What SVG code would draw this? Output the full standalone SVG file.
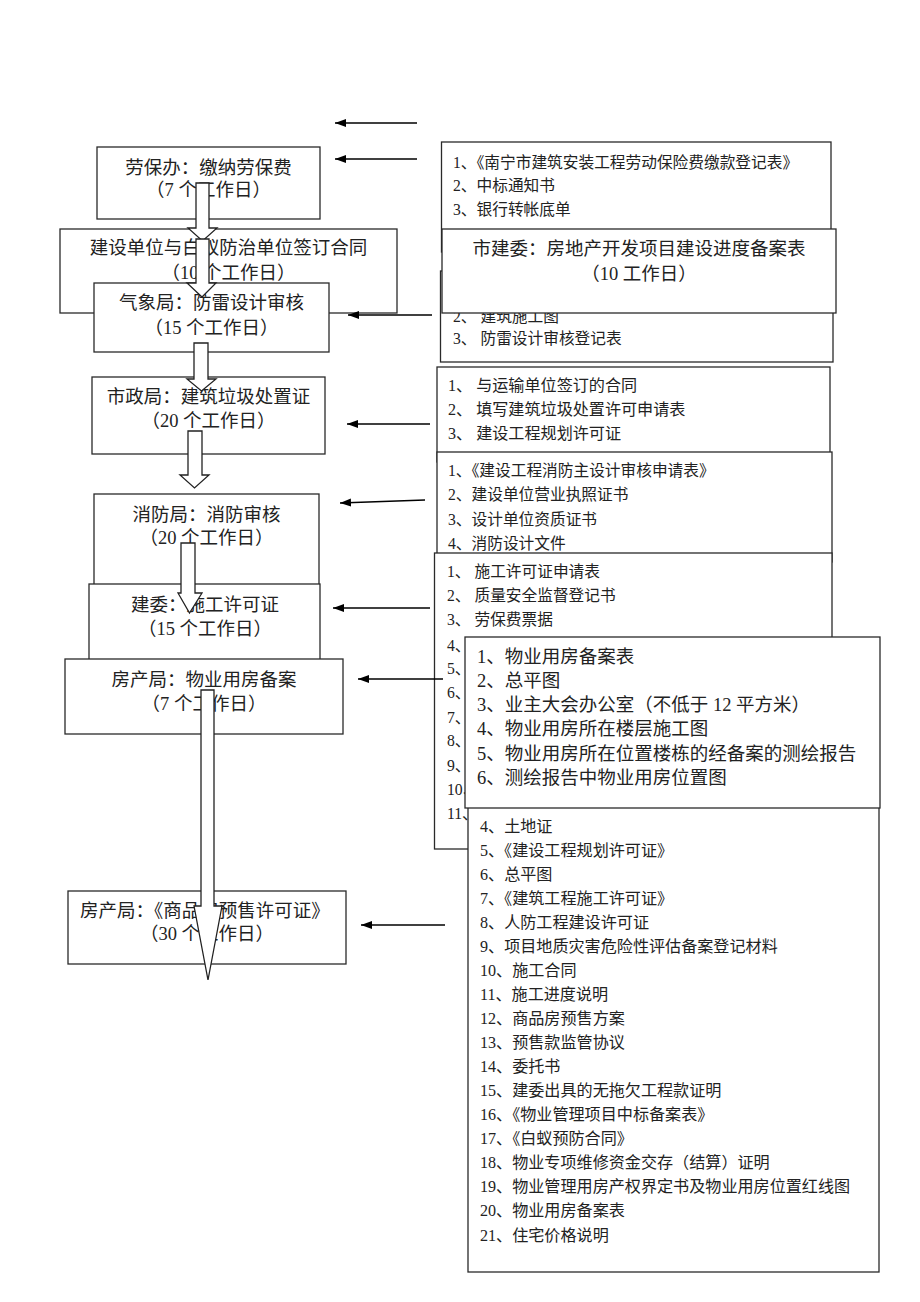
<svg xmlns="http://www.w3.org/2000/svg" width="920" height="1302" viewBox="0 0 920 1302">
<style>
.box{fill:#fff;stroke:#2a2a2a;stroke-width:1.3}
.t{font-family:"Liberation Serif","Noto Sans CJK SC",sans-serif;font-size:18.5px;fill:#222}
.c{text-anchor:middle}
.s{font-family:"Liberation Serif","Noto Sans CJK SC",sans-serif;font-size:15.7px;fill:#222}
.m{font-size:16.1px}
.ln{stroke:#000;stroke-width:1.5;fill:none;marker-end:url(#ah)}
.blk{fill:#fff;stroke:#222;stroke-width:1.3;stroke-linejoin:miter}
</style>
<defs>
<marker id="ah" markerUnits="userSpaceOnUse" markerWidth="12" markerHeight="10" refX="11" refY="4" orient="auto">
<path d="M0,0 L11,4 L0,8 Z" fill="#000"/>
</marker>
</defs>
<rect width="920" height="1302" fill="#fff"/>

<g id="n-laobao"><rect class="box" x="97" y="147" width="223" height="72"/><text class="t c" x="208.5" y="173.5">劳保办：缴纳劳保费</text><text class="t c" x="208.5" y="195.5">（7 个工作日）</text></g>
<g id="n-jianshe"><rect class="box" x="60" y="229" width="337" height="84"/><text class="t c" x="228.5" y="253.5">建设单位与白蚁防治单位签订合同</text><text class="t c" x="228.5" y="278.5">（10 个工作日）</text></g>
<g id="n-qixiang"><rect class="box" x="94" y="283" width="235" height="69"/><text class="t c" x="211.5" y="308.5">气象局：防雷设计审核</text><text class="t c" x="211.5" y="333.5">（15 个工作日）</text></g>
<g id="n-shizheng"><rect class="box" x="92" y="377" width="233" height="77"/><text class="t c" x="208.5" y="402.5">市政局：建筑垃圾处置证</text><text class="t c" x="208.5" y="426.5">（20 个工作日）</text></g>
<g id="n-xiaofang"><rect class="box" x="94" y="494" width="225" height="110"/><text class="t c" x="206.5" y="520.5">消防局：消防审核</text><text class="t c" x="206.5" y="543.5">（20 个工作日）</text></g>
<g id="n-jianwei"><rect class="box" x="89" y="584" width="231" height="90"/><text class="t c" x="205" y="610.5">建委：施工许可证</text><text class="t c" x="205" y="634.5">（15 个工作日）</text></g>
<g id="n-wuye"><rect class="box" x="65" y="659" width="278" height="75"/><text class="t c" x="204" y="685.5">房产局：物业用房备案</text><text class="t c" x="204" y="709.5">（7 个工作日）</text></g>
<g id="n-yushou"><rect class="box" x="68" y="891" width="278" height="73"/><text class="t c" x="205" y="916.5">房产局：《商品房预售许可证》</text><text class="t c" x="207" y="939.5">（30 个工作日）</text></g>

<g id="r-laobao"><rect class="box" x="441.5" y="142" width="389.5" height="110"/>
<text class="s" x="453" y="167.5">1、《南宁市建筑安装工程劳动保险费缴款登记表》</text>
<text class="s" x="453" y="190.5">2、中标通知书</text>
<text class="s" x="453" y="214.5">3、银行转帐底单</text></g>
<g id="r-qixiang"><rect class="box" x="440.5" y="271" width="392.5" height="91"/>
<text class="s" x="453" y="321.5">2、 建筑施工图</text>
<text class="s" x="453" y="343.5">3、 防雷设计审核登记表</text></g>
<g id="n-shijianwei"><rect class="box" x="442" y="229" width="394" height="84"/><text class="t c" x="639" y="254.5">市建委：房地产开发项目建设进度备案表</text><text class="t c" x="639" y="279.5">（10 工作日）</text></g>
<g id="r-shizheng"><rect class="box" x="437" y="367" width="393" height="95"/>
<text class="s m" x="448" y="390.5">1、 与运输单位签订的合同</text>
<text class="s m" x="448" y="414.5">2、 填写建筑垃圾处置许可申请表</text>
<text class="s m" x="448" y="438.5">3、 建设工程规划许可证</text></g>
<g id="r-xiaofang"><rect class="box" x="437" y="452" width="395" height="110"/>
<text class="s" x="448" y="475.5">1、《建设工程消防主设计审核申请表》</text>
<text class="s" x="448" y="499.5">2、建设单位营业执照证书</text>
<text class="s" x="448" y="524.5">3、设计单位资质证书</text>
<text class="s" x="448" y="548.5">4、消防设计文件</text></g>
<g id="r-jianwei"><rect class="box" x="434.5" y="553" width="397.5" height="296"/>
<text class="s" x="447" y="576.5">1、 施工许可证申请表</text>
<text class="s" x="447" y="600.5">2、 质量安全监督登记书</text>
<text class="s" x="447" y="624.5">3、 劳保费票据</text>
<text class="s" x="447" y="650.5">4、</text>
<text class="s" x="447" y="673.5">5、</text>
<text class="s" x="447" y="697.5">6、</text>
<text class="s" x="447" y="722.5">7、</text>
<text class="s" x="447" y="745.5">8、</text>
<text class="s" x="447" y="770.5">9、</text>
<text class="s" x="447" y="794.5">10、</text>
<text class="s" x="447" y="818.5">11、</text></g>
<g id="r-yushou"><rect class="box" x="468" y="790" width="411" height="482"/>
<text class="s m" x="480" y="831.5">4、土地证</text>
<text class="s m" x="480" y="855.5">5、《建设工程规划许可证》</text>
<text class="s m" x="480" y="879.5">6、总平图</text>
<text class="s m" x="480" y="903.5">7、《建筑工程施工许可证》</text>
<text class="s m" x="480" y="927.5">8、人防工程建设许可证</text>
<text class="s m" x="480" y="951.5">9、项目地质灾害危险性评估备案登记材料</text>
<text class="s m" x="480" y="975.5">10、施工合同</text>
<text class="s m" x="480" y="999.5">11、施工进度说明</text>
<text class="s m" x="480" y="1023.5">12、商品房预售方案</text>
<text class="s m" x="480" y="1047.5">13、预售款监管协议</text>
<text class="s m" x="480" y="1071.5">14、委托书</text>
<text class="s m" x="480" y="1095.5">15、建委出具的无拖欠工程款证明</text>
<text class="s m" x="480" y="1119.5">16、《物业管理项目中标备案表》</text>
<text class="s m" x="480" y="1143.5">17、《白蚁预防合同》</text>
<text class="s m" x="480" y="1167.5">18、物业专项维修资金交存（结算）证明</text>
<text class="s m" x="480" y="1191.5">19、物业管理用房产权界定书及物业用房位置红线图</text>
<text class="s m" x="480" y="1215.5">20、物业用房备案表</text>
<text class="s m" x="480" y="1240.5">21、住宅价格说明</text></g>
<g id="r-wuye"><rect class="box" x="465" y="637" width="415" height="171"/>
<text class="t" x="477" y="662.5">1、物业用房备案表</text>
<text class="t" x="477" y="686.5">2、总平图</text>
<text class="t" x="477" y="710.5">3、业主大会办公室（不低于 12 平方米）</text>
<text class="t" x="477" y="734.5">4、物业用房所在楼层施工图</text>
<text class="t" x="477" y="759.5">5、物业用房所在位置楼栋的经备案的测绘报告</text>
<text class="t" x="477" y="783.5">6、测绘报告中物业用房位置图</text></g>

<g id="connectors">
<line class="ln" x1="417" y1="123" x2="335" y2="123"/>
<line class="ln" x1="417" y1="159" x2="335" y2="159"/>
<line class="ln" x1="432" y1="315" x2="348" y2="315"/>
<line class="ln" x1="430" y1="424" x2="347" y2="424"/>
<line class="ln" x1="425" y1="500" x2="340" y2="503"/>
<line class="ln" x1="430" y1="608" x2="333" y2="608"/>
<line class="ln" x1="443" y1="679" x2="358" y2="679"/>
<line class="ln" x1="445" y1="925" x2="361" y2="925"/>
<polygon class="blk" points="196,183 209,183 209,228 217,228 202.5,241 188,228 196,228"/>
<polygon class="blk" points="196,239 209,239 209,283 216,283 202,297 187,283 196,283"/>
<polygon class="blk" points="194,343 208,343 208,379 216,379 201.5,391 187,379 194,379"/>
<polygon class="blk" points="188,431 202,431 202,475 209,475 194.5,488 180,475 188,475"/>
<polygon class="blk" points="181,543 195,543 195,593 202,593 189.5,613 178,593 181,593"/>
<polygon class="blk" points="201,690 214,690 214,906 222,906 208,980 194,906 201,906"/>
</g>
</svg>
